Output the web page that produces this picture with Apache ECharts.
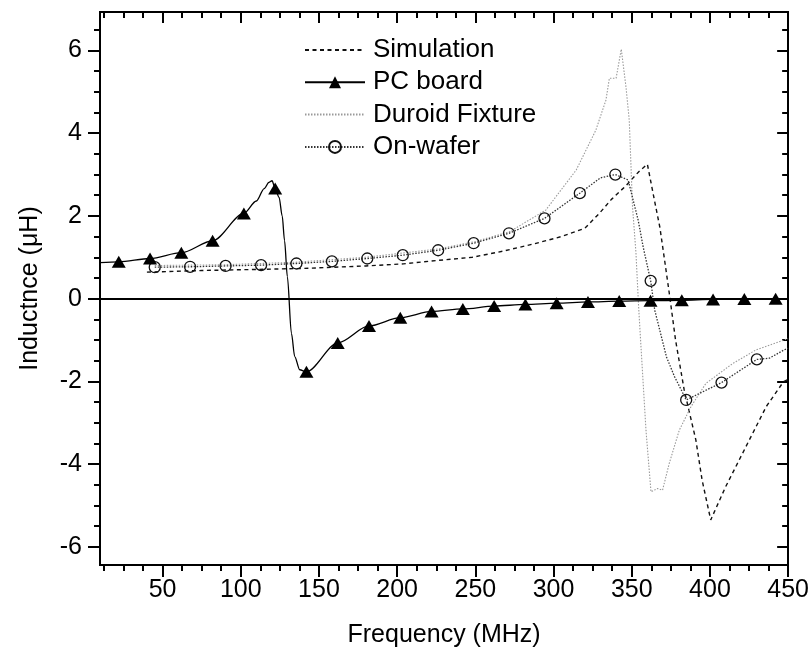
<!DOCTYPE html>
<html>
<head>
<meta charset="utf-8">
<script src="https://cdn.jsdelivr.net/npm/echarts@6/dist/echarts.min.js"></script>
<style>
  html, body { margin: 0; padding: 0; background: #fff; }
  #chart { width: 812px; height: 656px; }
</style>
</head>
<body>
<div id="chart"></div>
<script>
// Frequency (MHz) / inductance (uH) readings for each measurement set.

// Simulation (dashed curve)
const simX = [40, 75, 115, 140, 160, 180, 204, 225, 248, 268, 287, 305, 320, 329, 337, 346, 354.5, 360, 364.5, 368, 371, 374, 378, 383.5, 391, 395, 400.5, 410, 423, 436, 447, 450];
const simY = [0.64, 0.68, 0.71, 0.73, 0.76, 0.79, 0.84, 0.92, 1.0, 1.15, 1.32, 1.5, 1.7, 2.05, 2.4, 2.72, 3.07, 3.25, 2.38, 1.72, 0.93, 0.13, -1.0, -2.2, -3.42, -4.39, -5.35, -4.55, -3.58, -2.61, -2.01, -1.95];

// PC board: marked readings
const pcMarkX = [22, 42, 62, 82, 102, 122, 142, 162, 182, 202, 222, 242, 262, 282, 302, 322, 342, 362, 382, 402, 422, 442];
const pcMarkY = [0.89, 0.97, 1.11, 1.40, 2.06, 2.66, -1.77, -1.07, -0.66, -0.46, -0.31, -0.25, -0.18, -0.14, -0.11, -0.08, -0.06, -0.05, -0.04, -0.02, -0.01, 0.0];
// PC board: extra readings along the curve between markers
const pcLineX = [10, 110, 115, 118, 120, 124.5, 126.5, 128, 129.8, 132.4, 134.5, 137.7, 450];
const pcLineY = [0.87, 2.36, 2.66, 2.81, 2.85, 2.45, 2.0, 1.4, 0.53, -0.84, -1.4, -1.72, 0.0];

// Duroid fixture (light dotted curve)
const durX = [45, 90, 135, 180, 226, 250, 272, 295, 314.5, 327, 333.5, 335.7, 340, 343.3, 346.3, 348.4, 350.5, 352.7, 354.4, 355.9, 359.1, 362.3, 366.5, 369.7, 374, 380.4, 387.9, 397.4, 414.5, 429.4, 447.4, 450];
const durY = [0.8, 0.82, 0.88, 1.0, 1.2, 1.38, 1.62, 2.14, 3.11, 4.07, 4.8, 5.33, 5.33, 6.03, 5.12, 4.32, 2.22, 1.1, -0.2, -1.16, -3.18, -4.67, -4.59, -4.63, -3.98, -3.18, -2.61, -2.05, -1.57, -1.24, -1.0, -0.97];

// On-wafer: marked readings
const owMarkX = [45, 67.6, 90.3, 113, 135.6, 158.3, 180.9, 203.6, 226.2, 248.9, 271.5, 294.2, 316.8, 339.5, 362.1, 384.8, 407.4, 430];
const owMarkY = [0.76, 0.77, 0.79, 0.81, 0.85, 0.90, 0.97, 1.05, 1.17, 1.34, 1.58, 1.94, 2.55, 3.0, 0.43, -2.45, -2.03, -1.47];
// On-wafer: extra readings along the curve between markers
const owLineX = [330, 347.7, 350.9, 354.1, 357.3, 364.7, 367.9, 372.2, 377.4, 381.7, 438, 447.4, 450];
const owLineY = [2.92, 2.87, 2.38, 1.9, 1.25, -0.28, -0.76, -1.41, -1.89, -2.21, -1.44, -1.24, -1.2];

// Axis tick values
const xMajorTicks = [50, 100, 150, 200, 250, 300, 350, 400, 450];
const yMajorTicks = [-6, -4, -2, 0, 2, 4, 6];

function pairs(xs, ys) {
  return xs.map((x, i) => [x, ys[i]]);
}
// merge marker readings and in-between readings, markers visible only on the former
function mergedLine(mx, my, lx, ly, size) {
  const pts = mx.map((x, i) => ({ value: [x, my[i]], symbolSize: size }))
    .concat(lx.map((x, i) => ({ value: [x, ly[i]], symbolSize: 0 })));
  pts.sort((a, b) => a.value[0] - b.value[0]);
  return pts;
}

const xMin = 10, xMax = 450, yMin = -6.44, yMax = 6.93;
const xMinor = [];
for (let v = 12.5; v < xMax; v += 12.5) if (v % 50 !== 0) xMinor.push(v);
const yMinor = [];
for (let v = -6; v <= 6.5; v += 0.5) if (v % 2 !== 0) yMinor.push(v);

const FONT = 'Liberation Sans, Arial, sans-serif';
const INK = '#000';

function xAx(pos, ticks, len, inside, labels, extra) {
  return Object.assign({
    type: 'value', min: xMin, max: xMax, position: pos,
    axisLine: { show: true, onZero: false, lineStyle: { color: INK, width: 2 } },
    axisTick: { show: true, inside: inside, length: len, customValues: ticks, lineStyle: { color: INK, width: 2 } },
    axisLabel: labels ? { show: true, customValues: ticks, fontSize: 25, color: INK, fontFamily: FONT, margin: 13 } : { show: false },
    splitLine: { show: false }
  }, extra || {});
}
function yAx(pos, ticks, len, inside, labels, extra) {
  return Object.assign({
    type: 'value', min: yMin, max: yMax, position: pos,
    axisLine: { show: true, onZero: false, lineStyle: { color: INK, width: 2 } },
    axisTick: { show: true, inside: inside, length: len, customValues: ticks, lineStyle: { color: INK, width: 2 } },
    axisLabel: labels ? { show: true, customValues: ticks, fontSize: 25, color: INK, fontFamily: FONT, margin: 18 } : { show: false },
    splitLine: { show: false }
  }, extra || {});
}

// legend entries for plain curves show only the line sample
const noMark = { color: 'rgba(0,0,0,0)', borderColor: 'rgba(0,0,0,0)', borderWidth: 0 };

const chart = echarts.init(document.getElementById('chart'), null, { renderer: 'canvas' });
chart.setOption({
  backgroundColor: '#fff',
  animation: false,
  grid: { left: 100, right: 23, top: 12, bottom: 91, containLabel: false },
  legend: {
    orient: 'vertical', left: 299, top: 32, padding: 5,
    itemWidth: 60, itemHeight: 15, itemGap: 6.3,
    selectedMode: false,
    textStyle: { fontSize: 26, lineHeight: 26, color: INK, fontFamily: FONT, padding: [0, 0, 0, 3] },
    data: [
      { name: 'Simulation', itemStyle: noMark },
      'PC board',
      { name: 'Duroid Fixture', itemStyle: noMark },
      'On-wafer'
    ]
  },
  xAxis: [
    xAx('bottom', xMajorTicks, 12, false, true, {
      name: 'Frequency (MHz)', nameLocation: 'middle', nameGap: 58,
      nameTextStyle: { fontSize: 25, color: INK, fontFamily: FONT }
    }),
    xAx('bottom', xMinor, 6, false, false),
    xAx('top', xMajorTicks, 11, true, false),
    xAx('top', xMinor, 6, true, false)
  ],
  yAxis: [
    yAx('left', yMajorTicks, 12, false, true, {
      name: 'Inductnce (\u03bcH)', nameLocation: 'middle', nameGap: 57,
      nameTextStyle: { fontSize: 25, color: INK, fontFamily: FONT }
    }),
    yAx('left', yMinor, 6, false, false),
    yAx('right', yMajorTicks, 11, true, false),
    yAx('right', yMinor, 6, true, false)
  ],
  series: [
    {
      name: 'Simulation', type: 'line', xAxisIndex: 0, yAxisIndex: 0,
      data: pairs(simX, simY), showSymbol: false, symbol: 'none',
      lineStyle: { color: '#111', width: 1.4, type: [4, 3.5] },
      itemStyle: { color: '#111' },
      markLine: {
        silent: true, symbol: 'none', label: { show: false },
        lineStyle: { color: INK, width: 2, type: 'solid' },
        data: [{ yAxis: 0 }]
      },
      z: 2
    },
    {
      name: 'Duroid Fixture', type: 'line', xAxisIndex: 0, yAxisIndex: 0,
      data: pairs(durX, durY), showSymbol: false, symbol: 'none',
      lineStyle: { color: '#9a9a9a', width: 1.1, type: [1.5, 1.5] },
      itemStyle: { color: '#9a9a9a' },
      z: 2
    },
    {
      name: 'On-wafer', type: 'line', xAxisIndex: 0, yAxisIndex: 0,
      data: mergedLine(owMarkX, owMarkY, owLineX, owLineY, 11),
      symbol: 'circle', symbolSize: 11, showAllSymbol: true,
      lineStyle: { color: '#333', width: 1.3, type: [1.5, 1.5] },
      itemStyle: { color: 'rgba(255,255,255,0)', borderColor: '#111', borderWidth: 1.3 },
      z: 3
    },
    {
      name: 'PC board', type: 'line', xAxisIndex: 0, yAxisIndex: 0,
      data: mergedLine(pcMarkX, pcMarkY, pcLineX, pcLineY, [14, 12]),
      symbol: 'triangle', symbolSize: [14, 12], showAllSymbol: true,
      smooth: 0.3, smoothMonotone: 'x',
      lineStyle: { color: '#000', width: 1.3 },
      itemStyle: { color: '#000' },
      z: 4
    }
  ]
});
</script>
</body>
</html>
